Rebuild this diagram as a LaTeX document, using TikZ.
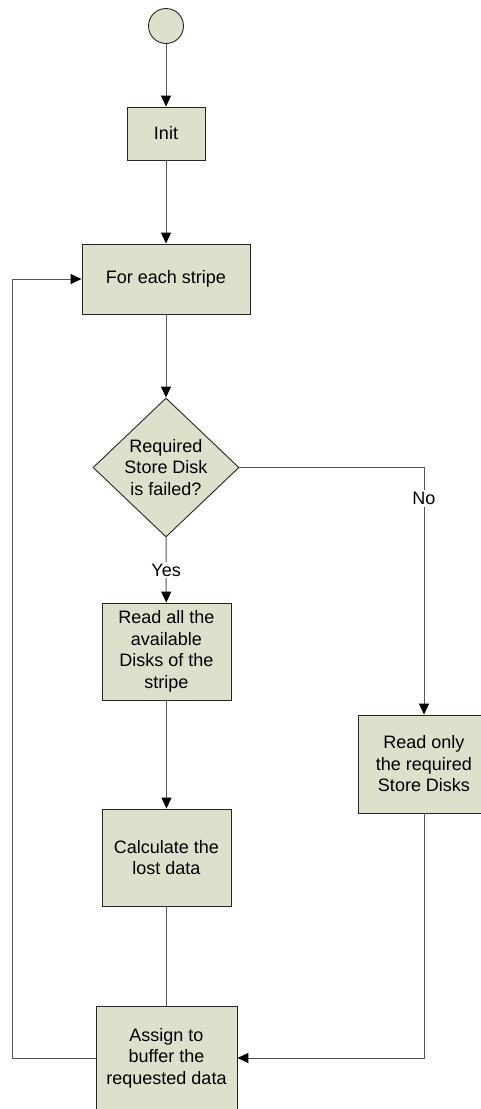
\documentclass[tikz,border=0pt]{standalone}
\usepackage{fontspec}
\setmainfont{Liberation Sans}
\usetikzlibrary{shapes.geometric,arrows.meta}

\definecolor{boxfill}{RGB}{221,225,204}
\definecolor{linegray}{RGB}{85,85,85}

\tikzset{
  block/.style={draw=black!85, fill=boxfill, line width=0.9pt, inner sep=0pt,
    align=center, font=\fontsize{18}{21.5}\selectfont},
  decision/.style={block, shape=diamond, aspect=1.05},
  arr/.style={draw=linegray, line width=1pt,
    -{Triangle[length=11pt,width=10pt,color=black]}},
  plain/.style={draw=linegray, line width=1pt},
  lbl/.style={fill=white, inner sep=2pt, font=\fontsize{18}{21.5}\selectfont}
}

\begin{document}
\begin{tikzpicture}[x=1pt,y=-1pt]
\clip (0,0) rectangle (481,1109);
\useasboundingbox (0,0) rectangle (481,1109);

% boxes, placed at their centres
\node[block, circle, minimum size=35pt] (start) at (166,26) {};
\node[block, minimum width=78pt, minimum height=53pt] (init) at (166,133.5) {Init};
\node[block, minimum width=168pt, minimum height=70pt] (stripe) at (166,279) {For each stripe};
\node[decision, minimum width=146pt, minimum height=139pt] (failed) at (166,467.5)
  {Required\\Store Disk\\is failed?};
\node[block, minimum width=129pt, minimum height=97pt] (readall) at (166.5,651.5)
  {Read all the\\available\\Disks of the\\stripe};
\node[block, minimum width=129pt, minimum height=97pt] (calc) at (166.5,857.5)
  {Calculate the\\lost data};
\node[block, minimum width=132pt, minimum height=98pt] (readonly) at (424,764)
  {Read only\\the required\\Store Disks};
\node[block, minimum width=141pt, minimum height=104pt] (assign) at (166.5,1058)
  {Assign to\\buffer the\\requested data};

% the loop goes back up along the left side
\coordinate (loopx) at (12,0);

\draw[arr] (start) -- (init);
\draw[arr] (init) -- (stripe);
\draw[arr] (stripe) -- (failed);
\draw[arr] (failed.south) -- node[lbl] {Yes} (readall);
\draw[arr] (failed.east) -| node[lbl, pos=0.5625] {No} (readonly);
\draw[arr] (readall) -- (calc);
\draw[plain] (calc) -- (assign);
\draw[arr] (readonly) |- (assign);
\draw[arr] (assign) -- (assign -| loopx) -- (stripe -| loopx) -- (stripe);
\end{tikzpicture}
\end{document}
